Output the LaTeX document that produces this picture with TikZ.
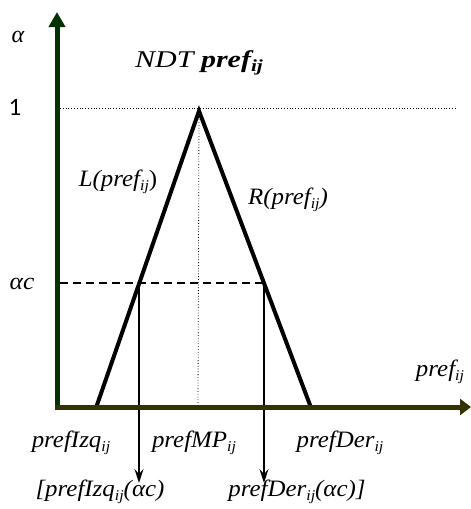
\documentclass[tikz,border=0pt]{standalone}
\usepackage{fontspec}
\setmainfont{Liberation Serif}
\newfontfamily\calib{Carlito}
\usetikzlibrary{arrows.meta}
\definecolor{axgreen}{HTML}{003300}
\definecolor{axolive}{HTML}{333300}
\newcommand{\sbs}[2][15]{\raisebox{-0.35ex}{\fontsize{#1}{#1}\selectfont #2}}
\newcommand{\hst}[1]{\scalebox{1.06}[1]{#1}}
\begin{document}
\begin{tikzpicture}[x=1pt,y=-1pt,
  lbl/.style={font=\fontsize{23.5}{25}\selectfont\itshape, inner sep=0pt},
  axisline/.style={line width=5pt},
  legline/.style={line width=4pt, line cap=round},
  guide/.style={line width=0.8pt, dotted},
  projarrow/.style={line width=1.5pt, -{Stealth[length=14pt,width=9pt,inset=5pt]}}]
\useasboundingbox (0,0) rectangle (471,509);
% coordinates
\coordinate (O) at (57,407);
\coordinate (ytop) at (57,12);
\coordinate (xstart) at (55,407);
\coordinate (xend) at (471,407);
\coordinate (footL) at (97,405);
\coordinate (peak) at (199,111);
\coordinate (footR) at (310,405);
\coordinate (oneS) at (60,108);
\coordinate (oneE) at (456,108);
\coordinate (mpB) at (198,404);
\coordinate (acS) at (60,283);
\coordinate (acL) at (139,283);
\coordinate (acR) at (264,283);
\coordinate (acLb) at (139,483);
\coordinate (acRb) at (264,483);
% guides
\draw[guide] (oneS) -- (oneE);
\draw[guide] (peak) -- (mpB);
\draw[line width=1.5pt, dash pattern=on 8pt off 5pt] (acS) -- (acR);
% triangle
\draw[legline] (footL) -- (peak) -- (footR);
% projections
\draw[projarrow] (acL) -- (acLb);
\draw[projarrow] (acR) -- (acRb);
% axes
\draw[axgreen, axisline, -{Triangle[length=15pt,width=16pt]}] (O) -- (ytop);
\draw[axolive, axisline, -{Triangle[length=11pt,width=16pt]}] (xstart) -- (xend);
% labels
\node[lbl, font=\fontsize{24}{26}\selectfont\itshape] (alpha) at (18,37) {α};
\node[lbl, font=\fontsize{24}{26}\selectfont\itshape] (title) at (199,63) {\scalebox{1.25}[1]{NDT \textbf{pref\sbs[17]{ij}}}};
\node[inner sep=0pt, font=\calib\fontsize{25}{27}\selectfont] (one) at (15,107) {1};
\node[lbl, font=\fontsize{24}{26}\selectfont\itshape] (ac) at (22,284) {\hst{αc}};
\node[lbl] (Llab) at (118,182) {\hst{L(pref\sbs{ij}\upshape)}};
\node[lbl] (Rlab) at (288,200) {\hst{R(pref\sbs{ij})}};
\node[lbl] (xlab) at (440,372) {\hst{pref\sbs{ij}}};
\node[lbl] (izq) at (71,443) {\hst{prefIzq\sbs{ij}}};
\node[lbl] (mp) at (194,443) {\hst{prefMP\sbs{ij}}};
\node[lbl] (der) at (340,443) {\hst{prefDer\sbs{ij}}};
\node[lbl] (izqac) at (100,492) {\hst{[prefIzq\sbs{ij}(αc)}};
\node[lbl] (derac) at (297,492) {\hst{prefDer\sbs{ij}(αc)]}};
\end{tikzpicture}
\end{document}
